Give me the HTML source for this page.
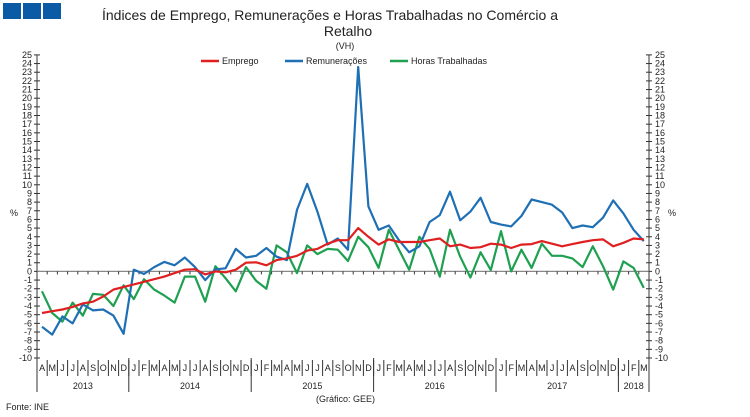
<!DOCTYPE html>
<html><head><meta charset="utf-8"><style>
body{margin:0;background:#fff;}
svg{display:block;font-family:"Liberation Sans",sans-serif;}
</style></head><body>
<svg id="c" width="750" height="417" xmlns="http://www.w3.org/2000/svg">
<rect x="3" y="3" width="18" height="16" fill="#0b5aa5"/>
<rect x="23" y="3" width="18" height="16" fill="#0b5aa5"/>
<rect x="43" y="3" width="18" height="16" fill="#0b5aa5"/>
<text x="330" y="20" font-size="14" text-anchor="middle" fill="#222">Índices de Emprego, Remunerações e Horas Trabalhadas no Comércio a</text>
<text x="348" y="36" font-size="14" text-anchor="middle" fill="#222">Retalho</text>
<text x="345" y="49" font-size="9" text-anchor="middle" fill="#222">(VH)</text>
<line x1="201" y1="61" x2="219" y2="61" stroke="#e02020" stroke-width="2.5"/>
<text x="222" y="64" font-size="9" fill="#222">Emprego</text>
<line x1="285" y1="61" x2="303" y2="61" stroke="#1f6fb5" stroke-width="2.5"/>
<text x="306" y="64" font-size="9" fill="#222">Remunerações</text>
<line x1="390" y1="61" x2="408" y2="61" stroke="#1ea050" stroke-width="2.5"/>
<text x="411" y="64" font-size="9" fill="#222">Horas Trabalhadas</text>
<text x="10" y="216" font-size="9" fill="#222">%</text>
<text x="668" y="216" font-size="9" fill="#222">%</text>
<text x="6" y="410" font-size="9" fill="#222">Fonte: INE</text>
<text x="375" y="402" font-size="9" text-anchor="end" fill="#222">(Gráfico: GEE)</text>
<g id="g"></g>
</svg>
<script>
var g=document.getElementById('g'),s='';
function Y(v){return 271.4-8.66*v;}
function X(i){return 42+10.2*i;}
var L=37,R=649;
s+='<line x1="'+L+'" y1="55" x2="'+L+'" y2="358" stroke="#333" stroke-width="1"/>';
s+='<line x1="'+R+'" y1="55" x2="'+R+'" y2="358" stroke="#333" stroke-width="1"/>';
for(var v=-10;v<=25;v++){var y=Y(v);
s+='<line x1="'+(L-3)+'" y1="'+y+'" x2="'+(L+3)+'" y2="'+y+'" stroke="#333"/>';
s+='<line x1="'+(R-3)+'" y1="'+y+'" x2="'+(R+3)+'" y2="'+y+'" stroke="#333"/>';
s+='<text x="'+(L-5)+'" y="'+(y+3)+'" font-size="9" text-anchor="end" fill="#222">'+v+'</text>';
s+='<text x="'+(R+6)+'" y="'+(y+3)+'" font-size="9" fill="#222">'+v+'</text>';}
s+='<line x1="'+L+'" y1="'+Y(0)+'" x2="'+R+'" y2="'+Y(0)+'" stroke="#888" stroke-width="1.2"/>';
for(var i=0;i<=60;i++){var x=L+10.2*i;s+='<line x1="'+x+'" y1="'+Y(0)+'" x2="'+x+'" y2="'+(Y(0)+3)+'" stroke="#333"/>';}
var m="AMJJASONDJFMAMJJASONDJFMAMJJASONDJFMAMJJASONDJFMAMJJASONDJFM";
for(var i=0;i<60;i++){var x=L+10.2*i;
s+='<text x="'+(x+5.1)+'" y="371" font-size="9" text-anchor="middle" fill="#222">'+m[i]+'</text>';
s+='<line x1="'+x+'" y1="360" x2="'+x+'" y2="376" stroke="#333"/>';}
[0,9,21,33,45,57,60].forEach(function(k){var x=L+10.2*k;s+='<line x1="'+x+'" y1="358" x2="'+x+'" y2="392" stroke="#333"/>';});
[[4.5,'2013'],[15,'2014'],[27,'2015'],[39,'2016'],[51,'2017'],[58.5,'2018']].forEach(function(a){s+='<text x="'+(L+10.2*a[0])+'" y="389" font-size="9" text-anchor="middle" fill="#222">'+a[1]+'</text>';});
var red=[-4.8,-4.6,-4.4,-4.1,-3.7,-3.5,-2.9,-2.1,-1.8,-1.5,-1.2,-0.9,-0.6,-0.2,0.2,0.25,-0.35,0,-0.1,0.2,1.0,1.05,0.7,1.3,1.5,1.8,2.4,2.6,3.2,3.6,3.6,5.0,4.0,3.1,3.7,3.4,3.4,3.4,3.6,3.8,2.9,3.1,2.7,2.8,3.2,3.1,2.7,3.1,3.15,3.5,3.2,2.9,3.15,3.4,3.6,3.7,2.9,3.3,3.8,3.7];
var blue=[-6.4,-7.3,-5.2,-6,-3.8,-4.5,-4.4,-5.1,-7.2,0.2,-0.3,0.5,1.1,0.7,1.6,0.5,-1,0.24,0.36,2.6,1.6,1.8,2.7,1.7,1.3,7.1,10.1,6.9,3.1,3.8,2.5,23.6,7.5,4.8,5.3,3.6,2.2,2.9,5.7,6.5,9.2,5.9,6.9,8.5,5.7,5.4,5.2,6.4,8.3,8.0,7.7,6.8,5.0,5.3,5.1,6.2,8.2,6.7,4.8,3.5];
var green=[-2.3,-4.8,-5.8,-3.6,-5.1,-2.6,-2.7,-4,-1.6,-3.2,-0.9,-2.1,-2.8,-3.6,-0.6,-0.6,-3.5,0.6,-0.8,-2.3,0.5,-1.1,-2.0,3.0,2.2,-0.2,3.0,2.0,2.6,2.5,1.2,4.0,2.8,0.4,4.8,2.5,0.2,4.0,2.6,-0.6,4.8,1.7,-0.7,2.2,0.15,4.65,0,2.5,0.4,3.2,1.8,1.8,1.5,0.5,2.9,0.6,-2.1,1.15,0.4,-1.9];
function P(d,c){return '<polyline fill="none" stroke="'+c+'" stroke-width="2.2" stroke-linejoin="round" points="'+d.map(function(v,i){return X(i).toFixed(1)+','+Y(v).toFixed(1)}).join(' ')+'"/>';}
s+=P(green,'#1ea050')+P(blue,'#1f6fb5')+P(red,'#e02020');
g.innerHTML=s;
</script>
</body></html>
